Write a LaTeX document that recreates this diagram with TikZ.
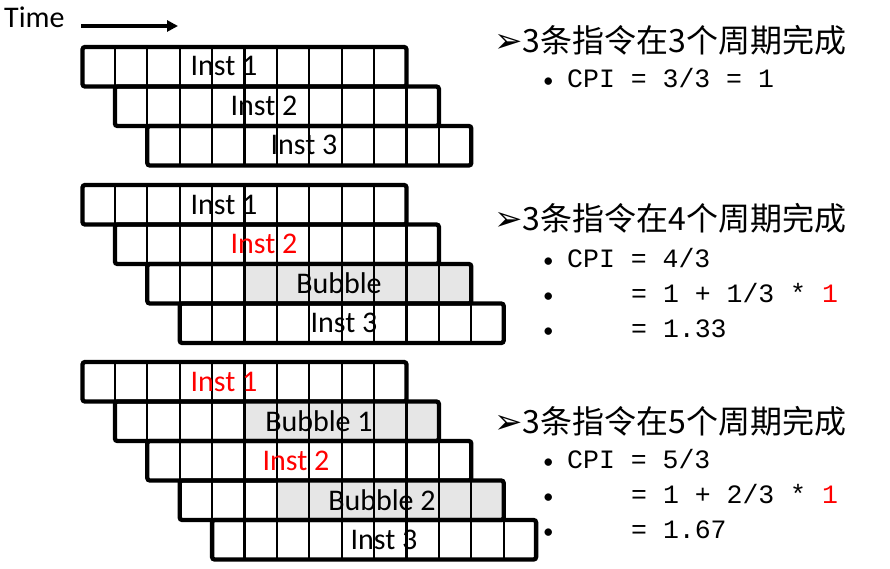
\documentclass[tikz,border=0pt]{standalone}
\usepackage{fontspec}
\setmainfont{Carlito}
\newfontfamily\cjk{Noto Sans CJK SC}
\newfontfamily\mono{Liberation Mono}
\newfontfamily\ding{DejaVu Sans}
\usetikzlibrary{arrows.meta}
\definecolor{bubblegray}{RGB}{230,230,230}

\tikzset{
	strip/.style={draw,line width=4.3pt,rounded corners=2.5pt,anchor=north west,
		minimum width=324pt,minimum height=39.5pt,inner sep=0pt,outer sep=0pt},
	cellline/.style={line width=2.1pt},
	lbl/.style={font=\fontsize{30}{32}\selectfont,inner sep=0pt},
	head/.style={anchor=base west,inner sep=0pt,font=\cjk\fontsize{32}{34}\selectfont},
	code/.style={anchor=base west,inner sep=0pt,font=\mono\fontsize{26.5}{30}\selectfont},
	bul/.style={anchor=base west,inner sep=0pt,font=\fontsize{21}{30}\selectfont},
}

% #1 name, #2 left, #3 top, #4 first grey cell (10 = none)
\newcommand{\instrow}[4]{%
	\fill[bubblegray] (#2+#4*32.4,#3) rectangle (#2+324,#3+39.5);
	\node[strip] (#1) at (#2,#3) {};
	\foreach \c in {1,...,9}
		\draw[cellline] ([xshift=\c*32.4pt]#1.north west) -- ([xshift=\c*32.4pt]#1.south west);
}

\begin{document}
\begin{tikzpicture}[x=1pt,y=-1pt]
		\useasboundingbox (0,0) rectangle (890,569);
		% time axis
		\node[lbl,anchor=base west] (time) at (4,28) {Time};
		\coordinate (T0) at (81,26);
		\coordinate (T1) at (178,26);
		\draw[line width=3.2pt,-{Triangle[length=11pt,width=11pt]}] (T0) -- (T1);
		% no stall
		\instrow{A1}{82.5}{47}{10}
		\instrow{A2}{114.9}{86.5}{10}
		\instrow{A3}{147.3}{126}{10}
		\node[lbl] (a1) at (224,66) {Inst 1};
		\node[lbl] (a2) at (264,105.5) {Inst 2};
		\node[lbl] (a3) at (304,145) {Inst 3};
		% one bubble
		\instrow{B1}{82.5}{185}{10}
		\instrow{B2}{114.9}{224.5}{10}
		\instrow{B3}{147.3}{264}{3}
		\instrow{B4}{179.7}{303.5}{10}
		\node[lbl] (b1) at (224,204.5) {Inst 1};
		\node[lbl,text=red] (b2) at (264,244) {Inst 2};
		\node[lbl] (b3) at (339,283.5) {Bubble};
		\node[lbl] (b4) at (344,323) {Inst 3};
		% two bubbles
		\instrow{C1}{82.5}{362}{10}
		\instrow{C2}{114.9}{401.5}{4}
		\instrow{C3}{147.3}{441}{10}
		\instrow{C4}{179.7}{480.5}{3}
		\instrow{C5}{212.1}{520}{10}
		\node[lbl,text=red] (c1) at (224,381.5) {Inst 1};
		\node[lbl] (c2) at (319,421) {Bubble 1};
		\node[lbl,text=red] (c3) at (296,460.5) {Inst 2};
		\node[lbl] (c4) at (382,500) {Bubble 2};
		\node[lbl] (c5) at (384,539.5) {Inst 3};
		% cpi text
		\node[head] (H1) at (494,53) {{\ding\fontsize{34}{30}\selectfont ➢}3条指令在3个周期完成};
		\node[bul] (D11) at (543,88) {•};
		\node[code] (L11) at (567,88) {CPI = 3/3 = 1};
		\node[head] (H2) at (494,230) {{\ding\fontsize{34}{30}\selectfont ➢}3条指令在4个周期完成};
		\node[bul] (D21) at (543,267) {•};
		\node[bul] (D22) at (543,302) {•};
		\node[bul] (D23) at (543,337) {•};
		\node[code] (L21) at (567,267) {CPI = 4/3};
		\node[code] (L22) at (631,302) {= 1 + 1/3 * \textcolor{red}{1}};
		\node[code] (L23) at (631,337) {= 1.33};
		\node[head] (H3) at (494,433) {{\ding\fontsize{34}{30}\selectfont ➢}3条指令在5个周期完成};
		\node[bul] (D31) at (543,468) {•};
		\node[bul] (D32) at (543,503) {•};
		\node[bul] (D33) at (543,538) {•};
		\node[code] (L31) at (567,468) {CPI = 5/3};
		\node[code] (L32) at (631,503) {= 1 + 2/3 * \textcolor{red}{1}};
		\node[code] (L33) at (631,538) {= 1.67};
	\end{tikzpicture}
\end{document}
